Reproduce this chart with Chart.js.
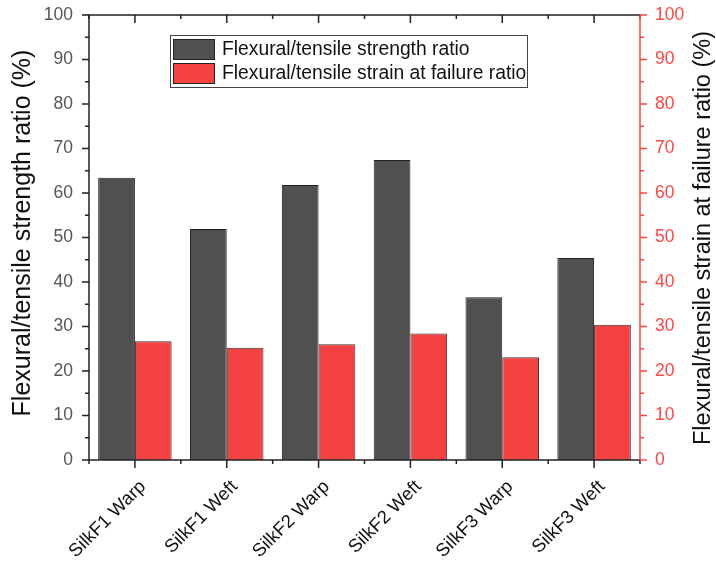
<!DOCTYPE html>
<html>
<head>
<meta charset="utf-8">
<script src="https://cdn.jsdelivr.net/npm/chart.js@4.4.1/dist/chart.umd.min.js"></script>
<style>
html, body { margin: 0; padding: 0; background: #fff; }
#wrap { width: 716px; height: 562px; }
</style>
</head>
<body>
<div id="wrap"><canvas id="ratioChart" width="716" height="562"></canvas></div>
<script>
// values
let samples = ['SilkF1 Warp', 'SilkF1 Weft', 'SilkF2 Warp', 'SilkF2 Weft', 'SilkF3 Warp', 'SilkF3 Weft'];
let strengthRatio = [63.4, 51.9, 61.8, 67.4, 36.6, 45.4];
let strainRatio = [26.7, 25.2, 26.0, 28.4, 23.1, 30.4];
let leftTitle = 'Flexural/tensile strength ratio (%)';
let rightTitle = 'Flexural/tensile strain at failure ratio (%)';

const FONT = '"Liberation Sans", Arial, sans-serif';
const RED = '#ff4545';

// axes frame, ticks (major + minor), titles and boxed legend
const frame = {
    id: 'frame',
    afterDraw(chart)
    {
        let ctx = chart.ctx;
        let a = chart.chartArea;
        let xs = chart.scales.x, ys = chart.scales.y;
        ctx.save();
        ctx.lineWidth = 1.5;

        ctx.strokeStyle = '#222';
        ctx.beginPath();
        ctx.moveTo(a.right, a.top);
        ctx.lineTo(a.left, a.top);
        ctx.lineTo(a.left, a.bottom);
        ctx.lineTo(a.right, a.bottom);
        ctx.stroke();

        // left ticks
        ctx.beginPath();
        for (let v = 0; v <= 100; v += 5)
        {
            let py = ys.getPixelForValue(v);
            let len = v % 10 === 0 ? 7 : 4;
            ctx.moveTo(a.left, py);
            ctx.lineTo(a.left - len, py);
        }
        // bottom / top ticks
        let px = samples.map((s, i) => xs.getPixelForValue(i));
        for (let p of px)
        {
            ctx.moveTo(p, a.bottom); ctx.lineTo(p, a.bottom + 8);
            ctx.moveTo(p, a.top); ctx.lineTo(p, a.top + 8);
        }
        let edges = [a.left, a.right];
        for (let i = 0; i < px.length - 1; i++) edges.push((px[i] + px[i + 1]) / 2);
        for (let p of edges)
        {
            ctx.moveTo(p, a.bottom); ctx.lineTo(p, a.bottom + 4);
            ctx.moveTo(p, a.top); ctx.lineTo(p, a.top + 4);
        }
        ctx.stroke();

        // right axis in red
        let yr = chart.scales.y1;
        ctx.strokeStyle = RED;
        ctx.beginPath();
        ctx.moveTo(a.right, a.top);
        ctx.lineTo(a.right, a.bottom);
        for (let v = 0; v <= 100; v += 5)
        {
            let py = yr.getPixelForValue(v);
            let len = v % 10 === 0 ? 7 : 4;
            ctx.moveTo(a.right, py);
            ctx.lineTo(a.right + len, py);
        }
        ctx.stroke();

        // axis titles
        ctx.fillStyle = '#111';
        ctx.textAlign = 'center';
        ctx.textBaseline = 'middle';
        ctx.save();
        ctx.font = '25px ' + FONT;
        ctx.translate(23, 233);
        ctx.rotate(-Math.PI / 2);
        ctx.fillText(leftTitle, 0, 0);
        ctx.restore();
        ctx.save();
        ctx.font = '23.5px ' + FONT;
        ctx.translate(704, 238);
        ctx.rotate(-Math.PI / 2);
        ctx.fillText(rightTitle, 0, 0);
        ctx.restore();

        // legend box
        ctx.lineWidth = 1;
        ctx.strokeStyle = '#444';
        ctx.strokeRect(170.5, 35.5, 357, 52);
        ctx.font = '19.3px ' + FONT;
        ctx.textAlign = 'left';
        chart.data.datasets.forEach((ds, i) =>
        {
            let top = 39 + i * 24;
            ctx.fillStyle = ds.backgroundColor;
            ctx.fillRect(173, top, 42, 21);
            ctx.strokeStyle = '#222';
            ctx.strokeRect(173.5, top + 0.5, 41, 20);
            ctx.fillStyle = '#111';
            ctx.fillText(ds.label, 222, top + 11);
        });
        ctx.restore();
    }
};

let canvasElement = document.getElementById('ratioChart');

const data_graph = {
    labels: samples,
    datasets: [{
        label: 'Flexural/tensile strength ratio',
        data: strengthRatio,
        backgroundColor: '#505050',
        borderColor: '#222',
        borderWidth: 1,
        yAxisID: 'y'
    }, {
        label: 'Flexural/tensile strain at failure ratio',
        data: strainRatio,
        backgroundColor: '#f44242',
        borderColor: '#333',
        borderWidth: 1,
        yAxisID: 'y1'
    }]
};

var config = {
    type: 'bar',
    data: data_graph,
    options: {
        responsive: false,
        animation: false,
        layout: { padding: { top: 15, left: 0, right: 0, bottom: 0 } },
        datasets: { bar: { categoryPercentage: 0.8, barPercentage: 1.0 } },
        plugins: { legend: { display: false }, tooltip: { enabled: false } },
        scales: {
            x: {
                grid: { display: false },
                border: { display: false },
                ticks: {
                    minRotation: 45, maxRotation: 45, autoSkip: false,
                    padding: 8, labelOffset: 8,
                    color: '#111', font: { size: 18.5, family: FONT }
                },
                afterFit: (s) => { s.height = 102; s.paddingLeft = 0; s.paddingRight = 0; }
            },
            y: {
                position: 'left', min: 0, max: 100,
                grid: { display: false },
                border: { display: false },
                ticks: { stepSize: 10, padding: 8, color: '#555', font: { size: 17.5, family: FONT } },
                afterFit: (s) => { s.width = 89; s.paddingTop = 0; s.paddingBottom = 0; }
            },
            y1: {
                position: 'right', min: 0, max: 100,
                grid: { display: false },
                border: { display: false },
                ticks: { stepSize: 10, padding: 7, color: RED, font: { size: 17.5, family: FONT } },
                afterFit: (s) => { s.width = 76; s.paddingTop = 0; s.paddingBottom = 0; }
            }
        }
    },
    plugins: [frame]
};

var ratioChart = new Chart(canvasElement, config);
</script>
</body>
</html>
